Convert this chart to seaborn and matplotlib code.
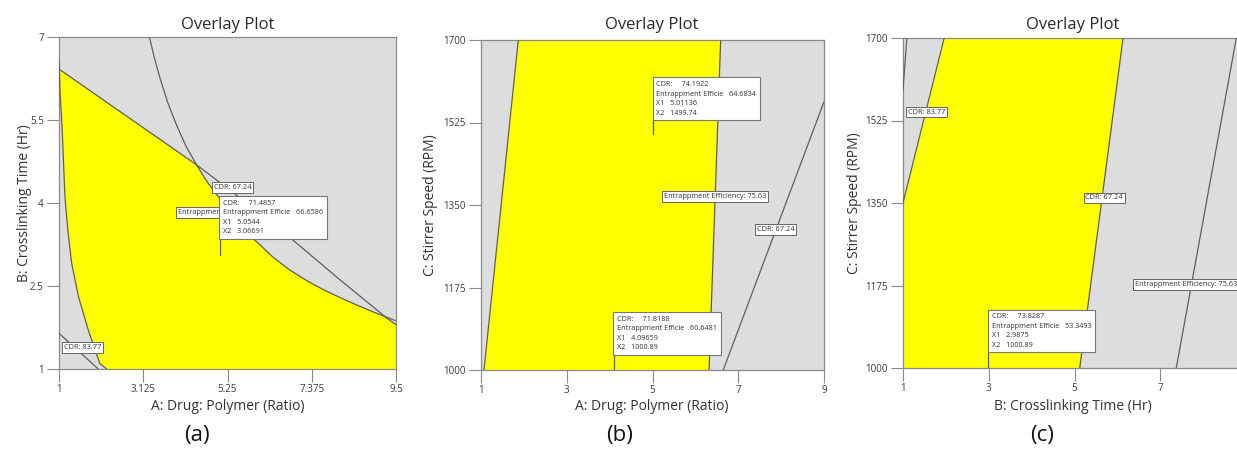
import numpy as np
import matplotlib
matplotlib.use("Agg")
import matplotlib.pyplot as plt
import seaborn as sns

# ---------------- data ----------------
# Panel (a): A: Drug:Polymer vs B: Crosslinking time
a_xticks = [1, 3.125, 5.25, 7.375, 9.5]
a_xticklabels = ["1", "3.125", "5.25", "7.375", "9.5"]
a_yticks = [1, 2.5, 4, 5.5, 7]
a_yticklabels = ["1", "2.5", "4", "5.5", "7"]
a_ee_x = [1.0, 4.47, 5.48, 6.95, 8.09, 9.27, 9.5]
a_ee_y = [6.42, 4.69, 4.14, 3.30, 2.61, 1.92, 1.80]
a_cdr67_x = [3.28, 3.40, 3.55, 3.75, 3.97, 4.20, 4.47, 4.72, 4.98, 5.45, 5.94,
             6.40, 6.80, 7.24, 7.65, 8.09, 8.50, 8.93, 9.5]
a_cdr67_y = [7.0, 6.64, 6.25, 5.80, 5.40, 5.03, 4.69, 4.40, 4.15, 3.72, 3.33,
             3.02, 2.80, 2.60, 2.44, 2.29, 2.16, 2.03, 1.87]
a_left_x = [1.0, 1.03, 1.08, 1.15, 1.23, 1.32, 1.49, 1.74, 2.03, 2.2]
a_left_y = [6.6, 5.95, 5.32, 4.11, 3.45, 2.91, 2.31, 1.70, 1.10, 1.0]
a_cdr83_x = [1.0, 1.99]
a_cdr83_y = [1.645, 1.0]
a_point = (5.0544, 3.06691)
a_box_bottom = 3.35
a_text = "CDR:     71.4857\nEntrappment Efficie   66.6586\nX1   5.0544\nX2   3.06691"

# Panel (b): A: Drug:Polymer vs C: Stirrer speed
b_ticks_x = [1, 3, 5, 7, 9]
b_ticks_y = [1000, 1175, 1350, 1525, 1700]
b_cdr83_x = [1.07, 1.87]
b_cdr83_y = [1000, 1700]
b_ee_x = [6.32, 6.59]
b_ee_y = [1000, 1700]
b_cdr67_x = [6.65, 9.0]
b_cdr67_y = [1000, 1569]
b_point1 = (5.01136, 1499.74)
b_box1_bottom = 1530
b_text1 = "CDR:     74.1922\nEntrappment Efficie   64.6834\nX1   5.01136\nX2   1499.74"
b_point2 = (4.09659, 1000.89)
b_box2_bottom = 1032
b_text2 = "CDR:     71.8188\nEntrappment Efficie   60.6481\nX1   4.09659\nX2   1000.89"

# Panel (c): B: Crosslinking time vs C: Stirrer speed
c_ticks_x = [1, 3, 5, 7]
c_ticks_y = [1000, 1175, 1350, 1525, 1700]
c_cdr83_x = [1.0, 1.96]
c_cdr83_y = [1350, 1700]
c_cdr83b_x = [1.09, 1.0]
c_cdr83b_y = [1700, 1590]
c_cdr67_x = [5.12, 6.13]
c_cdr67_y = [1000, 1700]
c_ee_x = [7.37, 8.77]
c_ee_y = [1000, 1700]
c_point = (2.9875, 1000.89)
c_box_bottom = 1033
c_text = "CDR:     73.8287\nEntrappment Efficie   53.3493\nX1   2.9875\nX2   1000.89"

# ---------------- style ----------------
sns.set_theme(style="white")
plt.rcParams["font.family"] = ["Open Sans", "DejaVu Sans"]

GRAY = "#dddddd"
YELLOW = "#ffff00"
LINE = "#5f5f5f"
SPINE = "#8a8a8a"
W, H = 1237, 450

fig = plt.figure(figsize=(W / 100, H / 100), dpi=100)
fig.patch.set_facecolor("white")


def px_axes(left, top, right, bottom):
    return fig.add_axes([left / W, 1 - bottom / H, (right - left) / W, (bottom - top) / H])


def style_axes(ax):
    ax.set_facecolor(GRAY)
    for s in ax.spines.values():
        s.set_color(SPINE)
        s.set_linewidth(0.9)
    ax.tick_params(direction="out", length=9, width=0.8, color=SPINE,
                   labelsize=7, labelcolor="#3a3a3a", pad=2,
                   bottom=True, left=True)
    ax.set_xlabel("")
    ax.set_ylabel("")


def contour(ax, xs, ys):
    sns.lineplot(x=xs, y=ys, ax=ax, color=LINE, lw=0.9, sort=False,
                 estimator=None, legend=False, zorder=3)


def label(ax, x, y, s, ha="center"):
    ax.text(x, y, s, ha=ha, va="center", fontsize=5.3, color="#333333", zorder=4,
            clip_on=True,
            bbox=dict(boxstyle="square,pad=0.22", fc="white", ec="#666666", lw=0.7))


def flag(ax, pt, ybox, s):
    ax.plot([pt[0], pt[0]], [pt[1], ybox], color=LINE, lw=0.9, zorder=5)
    ax.annotate(s, xy=(pt[0], ybox), xytext=(2.4, 2.6), textcoords="offset points",
                ha="left", va="bottom", fontsize=5.2, color="#333333",
                linespacing=1.5, zorder=6,
                bbox=dict(boxstyle="square,pad=0.5", fc="white", ec="#777777", lw=0.8))


# ---------------- panel (a) ----------------
axa = px_axes(59, 37, 396, 369)
style_axes(axa)
ya_x = a_ee_x[:2] + a_cdr67_x[7:18] + a_ee_x[5:] + [a_ee_x[-1]] + a_left_x[::-1][:-1]
ya_y = a_ee_y[:2] + a_cdr67_y[7:18] + a_ee_y[5:] + [a_yticks[0]] + a_left_y[::-1][:-1]
axa.fill(ya_x, ya_y, color=YELLOW, lw=0, zorder=1)
contour(axa, a_ee_x, a_ee_y)
contour(axa, a_cdr67_x, a_cdr67_y)
contour(axa, a_left_x, a_left_y)
contour(axa, a_cdr83_x, a_cdr83_y)
axa.set_xlim(1, 9.5)
axa.set_ylim(1, 7)
axa.set_xticks(a_xticks, a_xticklabels)
axa.set_yticks(a_yticks, a_yticklabels)
label(axa, 5.38, 4.28, "CDR: 67.24")
label(axa, 3.99, 3.83, "Entrappment Efficiency: 75.63", ha="left")
label(axa, 1.59, 1.39, "CDR: 83.77")
flag(axa, a_point, a_box_bottom, a_text)

# ---------------- panel (b) ----------------
axb = px_axes(481, 40, 824, 370)
style_axes(axb)
axb.fill([b_cdr83_x[0], b_cdr83_x[1], b_ee_x[1], b_ee_x[0]],
         [b_cdr83_y[0], b_cdr83_y[1], b_ee_y[1], b_ee_y[0]],
         color=YELLOW, lw=0, zorder=1)
contour(axb, b_cdr83_x, b_cdr83_y)
contour(axb, b_ee_x, b_ee_y)
contour(axb, b_cdr67_x, b_cdr67_y)
axb.set_xlim(1, 9)
axb.set_ylim(1000, 1700)
axb.set_xticks(b_ticks_x, [str(v) for v in b_ticks_x])
axb.set_yticks(b_ticks_y, [str(v) for v in b_ticks_y])
label(axb, 6.46, 1368, "Entrappment Efficiency: 75.63")
label(axb, 7.87, 1298, "CDR: 67.24")
flag(axb, b_point1, b_box1_bottom, b_text1)
flag(axb, b_point2, b_box2_bottom, b_text2)

# ---------------- panel (c) ----------------
axc = px_axes(903, 38, W, 368)
style_axes(axc)
axc.spines["right"].set_visible(False)
axc.fill([c_cdr67_x[0], 1.0, c_cdr83_x[0], c_cdr83_x[1], c_cdr67_x[1]],
         [c_cdr67_y[0], c_cdr67_y[0], c_cdr83_y[0], c_cdr83_y[1], c_cdr67_y[1]],
         color=YELLOW, lw=0, zorder=1)
contour(axc, c_cdr83_x, c_cdr83_y)
contour(axc, c_cdr83b_x, c_cdr83b_y)
contour(axc, c_cdr67_x, c_cdr67_y)
contour(axc, c_ee_x, c_ee_y)
axc.set_xlim(1, 1 + (W - 903) / 42.9)
axc.set_ylim(1000, 1700)
axc.set_xticks(c_ticks_x, [str(v) for v in c_ticks_x])
axc.set_yticks(c_ticks_y, [str(v) for v in c_ticks_y])
label(axc, 1.55, 1543, "CDR: 83.77")
label(axc, 5.69, 1361, "CDR: 67.24")
label(axc, 6.40, 1177, "Entrappment Efficiency: 75.63", ha="left")
flag(axc, c_point, c_box_bottom, c_text)

# ---------------- titles and labels ----------------
def ftext(x, y, s, **kw):
    fig.text(x / W, 1 - y / H, s, **kw)

for cx in (228, 652, 1073):
    ftext(cx, 25, "Overlay Plot", ha="center", va="center", fontsize=12, color="#2b2b2b")

ftext(228, 406, "A: Drug: Polymer (Ratio)", ha="center", va="center", fontsize=10, color="#333333")
ftext(652, 406, "A: Drug: Polymer (Ratio)", ha="center", va="center", fontsize=10, color="#333333")
ftext(1073, 406, "B: Crosslinking Time (Hr)", ha="center", va="center", fontsize=10, color="#333333")

ftext(25, 203, "B: Crosslinking Time (Hr)", ha="center", va="center", rotation=90, fontsize=10, color="#333333")
ftext(431, 205, "C: Stirrer Speed (RPM)", ha="center", va="center", rotation=90, fontsize=10, color="#333333")
ftext(855, 203, "C: Stirrer Speed (RPM)", ha="center", va="center", rotation=90, fontsize=10, color="#333333")

ftext(197, 436, "(a)", ha="center", va="center", fontsize=16, color="#111111")
ftext(620, 436, "(b)", ha="center", va="center", fontsize=16, color="#111111")
ftext(1042, 436, "(c)", ha="center", va="center", fontsize=16, color="#111111")

fig.savefig("out.png", dpi=100)
